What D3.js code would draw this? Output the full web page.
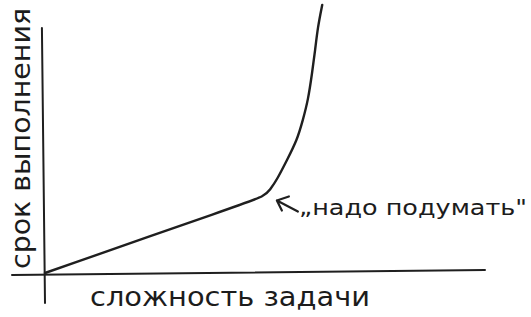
<!DOCTYPE html>
<html><head><meta charset="utf-8">
<script src="https://cdn.jsdelivr.net/npm/d3@7"></script>
<style>
html,body{margin:0;padding:0;background:#fff;}
svg{display:block;}
text{font-family:"DejaVu Sans",sans-serif;fill:#1c1c1c;}
</style></head>
<body>
<script>
// data: complexity (x) vs. completion time (y)
const complexity = [0, 44.3, 50, 51.1, 52.7, 55.0, 57.3, 58.6, 59.8, 60.7, 61.4, 62.0, 63.0];
const duration   = [0, 27.8, 31.4, 33.9, 38.0, 46.1, 54.3, 62.4, 70.6, 81.6, 91.0, 100.4, 109.4];
const xLabel = "сложность задачи";
const yLabel = "срок выполнения";
const noteText = "„надо подумать\"";
const noteAt = [52.7, 29.6]; // point the arrow refers to

const W = 531, H = 317;
const svg = d3.select("body").append("svg").attr("width", W).attr("height", H);

const x = d3.scaleLinear().domain([0, 100]).range([45, 485]);
const y = d3.scaleLinear().domain([0, 100]).range([273, 28]);

const ink = "#1f1f1f";

// axes (plain hand-drawn lines)
svg.append("path")
  .attr("d", `M${x(-7.5)},${y(-0.8)} L${x(100)},${y(1.2)}`)
  .attr("stroke", ink).attr("stroke-width", 2).attr("fill", "none").attr("stroke-linecap", "round");
svg.append("path")
  .attr("d", `M${x(-0.7)},${y(100)} L${x(0)},${y(-12.2)}`)
  .attr("stroke", ink).attr("stroke-width", 2).attr("fill", "none").attr("stroke-linecap", "round");

// curve
const pts = complexity.map((c, i) => [c, duration[i]]);
const line = d3.line().x(d => x(d[0])).y(d => y(d[1])).curve(d3.curveBasis);
svg.append("path").attr("d", line(pts))
  .attr("stroke", ink).attr("stroke-width", 2.4).attr("fill", "none")
  .attr("stroke-linecap", "round").attr("stroke-linejoin", "round");

// arrow
const tip = [x(noteAt[0]), y(noteAt[1])];
svg.append("path")
  .attr("d", `M${tip[0]+21},${tip[1]+11} L${tip[0]},${tip[1]} M${tip[0]+12},${tip[1]-4} L${tip[0]},${tip[1]} L${tip[0]+5},${tip[1]+10}`)
  .attr("stroke", ink).attr("stroke-width", 2.2).attr("fill", "none")
  .attr("stroke-linecap", "round").attr("stroke-linejoin", "round");

// note
svg.append("text").attr("x", 299).attr("y", 215)
  .attr("font-size", 22).attr("textLength", 228).attr("lengthAdjust", "spacingAndGlyphs")
  .text(noteText);

// x label
svg.append("text").attr("x", 90).attr("y", 306)
  .attr("font-size", 26).attr("textLength", 280).attr("lengthAdjust", "spacingAndGlyphs")
  .text(xLabel);

// y label
svg.append("text").attr("transform", "translate(30,269) rotate(-90)")
  .attr("font-size", 26).attr("textLength", 261).attr("lengthAdjust", "spacingAndGlyphs")
  .text(yLabel);
</script>
</body></html>
